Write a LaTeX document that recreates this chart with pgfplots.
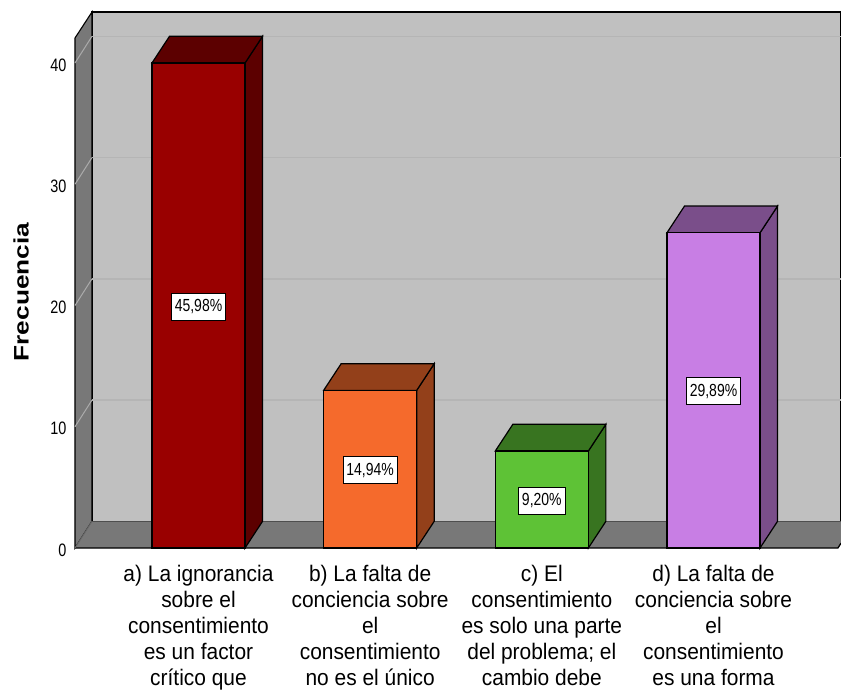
\documentclass[border=0pt]{standalone}
\usepackage{pgfplots}
\pgfplotsset{compat=1.18}
\usepackage{fontspec}
\setmainfont{Liberation Sans}
\newfontfamily\catfont[FakeStretch=0.93]{Liberation Sans}
\newfontfamily\tickfont[FakeStretch=0.8]{Liberation Sans}
\newfontfamily\pctfont[FakeStretch=0.8]{Liberation Sans}
\newfontfamily\labfont[FakeStretch=1.25]{Liberation Sans Bold}
\definecolor{wallback}{HTML}{C0C0C0}
\definecolor{wallside}{HTML}{787878}
\definecolor{gridb}{HTML}{B5B5B5}
\definecolor{grids}{HTML}{ABABAB}
\definecolor{ra}{HTML}{990000}\definecolor{rb}{HTML}{5C0000}
\definecolor{oa}{HTML}{F56A2C}\definecolor{ob}{HTML}{93401A}
\definecolor{ga}{HTML}{5EC236}\definecolor{gb}{HTML}{387420}
\definecolor{pa}{HTML}{C87EE4}\definecolor{pb}{HTML}{7A4E8A}
\tikzset{pct/.style={draw=black,fill=white,line width=0.9pt,inner sep=0pt,minimum width=54pt,minimum height=27pt,yshift=-1pt,font=\pctfont\fontsize{17.5}{19}\selectfont}}
\begin{document}
\begin{tikzpicture}[x=1pt,y=1pt]
\path[use as bounding box] (-75,-143) rectangle (766,548);
\begin{axis}[
  at={(0,0)},anchor=south west,
  scale only axis,width=766pt,height=536pt,
  xmin=-0.7194,xmax=3.7427,ymin=0,ymax=44.206,
  clip=false,
  axis line style={draw=none},
  tick style={draw=none},
  ytick={0,10,20,30,40},
  xtick={0,1,2,3},
  xticklabels={
    {a) La ignorancia\\sobre el\\consentimiento\\es un factor\\crítico que},
    {b) La falta de\\conciencia sobre\\el\\consentimiento\\no es el único},
    {c) El\\consentimiento\\es solo una parte\\del problema; el\\cambio debe},
    {d) La falta de\\conciencia sobre\\el\\consentimiento\\es una forma}},
  xticklabel style={align=center,anchor=north,yshift=-14pt,font=\catfont\fontsize{22.5}{26}\selectfont},
  /pgf/number format/assume math mode=true,
  yticklabel style={anchor=east,xshift=-5pt,yshift=-2pt,font=\tickfont\fontsize{18}{19}\selectfont},
  ylabel={Frecuencia},
  every axis y label/.style={at={(axis description cs:-0.0705,0.4776)},rotate=90,anchor=center,font=\labfont\fontsize{21}{22}\selectfont},
]
% back wall
\addplot[fill=wallback,draw=black,line width=1.3pt] coordinates {(-0.6204,2.2)(-0.6204,44.206)(3.7427,44.206)(3.7427,2.2)} --cycle;
% left wall
\addplot[fill=wallside,draw=black,line width=1.1pt] coordinates {(-0.7194,0)(-0.6204,2.2)(-0.6204,44.206)(-0.7194,42.06)} --cycle;
% floor
\addplot[fill=wallside,draw=none] coordinates {(-0.7194,0)(-0.6204,2.2)(3.7427,2.2)(3.7427,0.4)(3.725,0)} --cycle;
\addplot[black,line width=1.3pt] coordinates {(-0.7194,0)(3.725,0)(3.7427,0.4)};
\addplot[black!60,line width=1pt] coordinates {(-0.6204,2.2)(-0.7194,0)};
% grid on the walls
\addplot[gridb,line width=1.6pt] coordinates {(-0.6204,12.2)(3.7427,12.2)};
\addplot[gridb,line width=1.6pt] coordinates {(-0.6204,22.2)(3.7427,22.2)};
\addplot[gridb,line width=1.6pt] coordinates {(-0.6204,32.2)(3.7427,32.2)};
\addplot[gridb,line width=1.6pt] coordinates {(-0.6204,42.2)(3.7427,42.2)};
\addplot[grids,line width=1pt] coordinates {(-0.7194,10)(-0.6204,12.2)};
\addplot[grids,line width=1pt] coordinates {(-0.7194,20)(-0.6204,22.2)};
\addplot[grids,line width=1pt] coordinates {(-0.7194,30)(-0.6204,32.2)};
\addplot[grids,line width=1pt] coordinates {(-0.7194,40)(-0.6204,42.2)};
% bar a
\addplot[fill=rb,draw=black,line width=1.2pt] coordinates {(0.271,0)(0.373,2.2)(0.373,42.2)(0.271,40)} --cycle;
\addplot[fill=rb,draw=black,line width=1.2pt] coordinates {(-0.271,40)(-0.169,42.2)(0.373,42.2)(0.271,40)} --cycle;
\addplot[ybar,bar width=93pt,bar shift=0pt,fill=ra,draw=black,line width=1.2pt] coordinates {(0,40)};
% bar b
\addplot[fill=ob,draw=black,line width=1.2pt] coordinates {(1.271,0)(1.373,2.2)(1.373,15.2)(1.271,13)} --cycle;
\addplot[fill=ob,draw=black,line width=1.2pt] coordinates {(0.729,13)(0.831,15.2)(1.373,15.2)(1.271,13)} --cycle;
\addplot[ybar,bar width=93pt,bar shift=0pt,fill=oa,draw=black,line width=1.2pt] coordinates {(1,13)};
% bar c
\addplot[fill=gb,draw=black,line width=1.2pt] coordinates {(2.271,0)(2.373,2.2)(2.373,10.2)(2.271,8)} --cycle;
\addplot[fill=gb,draw=black,line width=1.2pt] coordinates {(1.729,8)(1.831,10.2)(2.373,10.2)(2.271,8)} --cycle;
\addplot[ybar,bar width=93pt,bar shift=0pt,fill=ga,draw=black,line width=1.2pt] coordinates {(2,8)};
% bar d
\addplot[fill=pb,draw=black,line width=1.2pt] coordinates {(3.271,0)(3.373,2.2)(3.373,28.2)(3.271,26)} --cycle;
\addplot[fill=pb,draw=black,line width=1.2pt] coordinates {(2.729,26)(2.831,28.2)(3.373,28.2)(3.271,26)} --cycle;
\addplot[ybar,bar width=93pt,bar shift=0pt,fill=pa,draw=black,line width=1.2pt] coordinates {(3,26)};
% percentage labels
\node[pct] at (axis cs:0,20) {45,98\%};
\node[pct] at (axis cs:1,6.5) {14,94\%};
\node[pct,minimum width=47pt] at (axis cs:2,4) {9,20\%};
\node[pct] at (axis cs:3,13) {29,89\%};
\end{axis}
\end{tikzpicture}
\end{document}
